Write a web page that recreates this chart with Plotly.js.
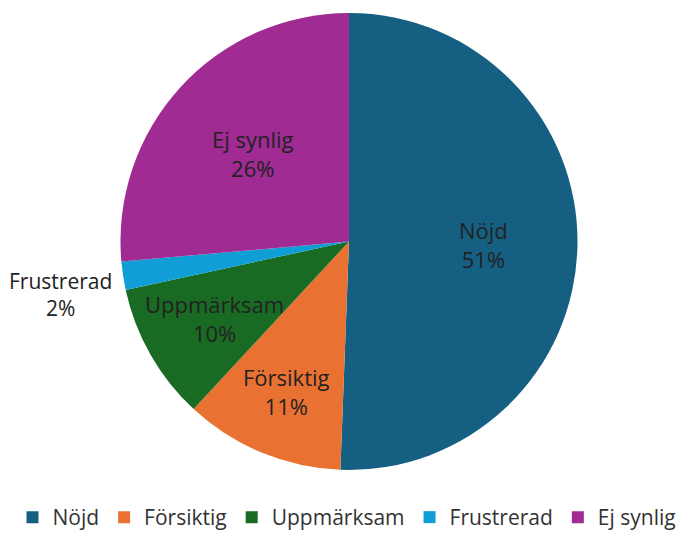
<!DOCTYPE html>
<html>
<head>
<meta charset="utf-8">
<script src="https://cdn.plot.ly/plotly-3.0.1.min.js"></script>
<style>html,body{margin:0;padding:0;background:#fff;}#chart{width:694px;height:533px;}</style>
</head>
<body>
<div id="chart"></div>
<script>
const categories = ['Nöjd', 'Försiktig', 'Uppmärksam', 'Frustrerad', 'Ej synlig'];
const values = [50.6, 11.3, 9.7, 2.0, 26.4];
const colors = ['#156082', '#E97132', '#196B24', '#0F9ED5', '#A02B93'];

// layout of the pie and its data labels (pixels / fractions of radius)
const W = 694, H = 533;
const CX = 349, CY = 241.5, R = 228.5;
const labelRadius = [0.59, 0.71, 0.68, null, 0.57];
const outsideLabelPx = { x: 60, y: 294 };

const total = values.reduce((a, b) => a + b, 0);
const pctText = values.map(v => Math.round(v / total * 100) + '%');

const FONT = '"Open Sans", sans-serif';

const annotations = [];
let cum = 0;
values.forEach((v, i) => {
  const mid = (cum + v / 2) / total * 2 * Math.PI;
  cum += v;
  let px, py;
  if (labelRadius[i] === null) {
    px = outsideLabelPx.x; py = outsideLabelPx.y;
  } else {
    const r = labelRadius[i] * R;
    px = CX + r * Math.sin(mid);
    py = CY - r * Math.cos(mid);
  }
  annotations.push({
    text: categories[i] + '<br>' + pctText[i],
    x: px / W, y: 1 - py / H,
    xref: 'paper', yref: 'paper',
    xanchor: 'center', yanchor: 'middle',
    showarrow: false,
    font: { family: FONT, size: i === 3 ? 21 : 22, color: '#222222' }
  });
});

const trace = {
  type: 'pie',
  labels: categories,
  values: values,
  sort: false,
  direction: 'clockwise',
  rotation: 0,
  marker: { colors: colors, line: { width: 0 } },
  textinfo: 'none',
  hoverinfo: 'label+percent',
  domain: { x: [(CX - R) / W, (CX + R) / W], y: [(H - CY - R) / H, (H - CY + R) / H] },
  automargin: false
};

const layout = {
  width: W,
  height: H,
  margin: { l: 0, r: 0, t: 0, b: 0, autoexpand: false },
  paper_bgcolor: '#ffffff',
  showlegend: true,
  legend: {
    orientation: 'h',
    x: 0.5, xanchor: 'center',
    y: -5 / H, yanchor: 'bottom',
    font: { family: FONT, size: 21, color: '#333333' },
    itemwidth: 30,
    traceorder: 'normal'
  },
  annotations: annotations,
  font: { family: FONT }
};

Plotly.newPlot('chart', [trace], layout, { displayModeBar: false, staticPlot: true });
</script>
</body>
</html>
